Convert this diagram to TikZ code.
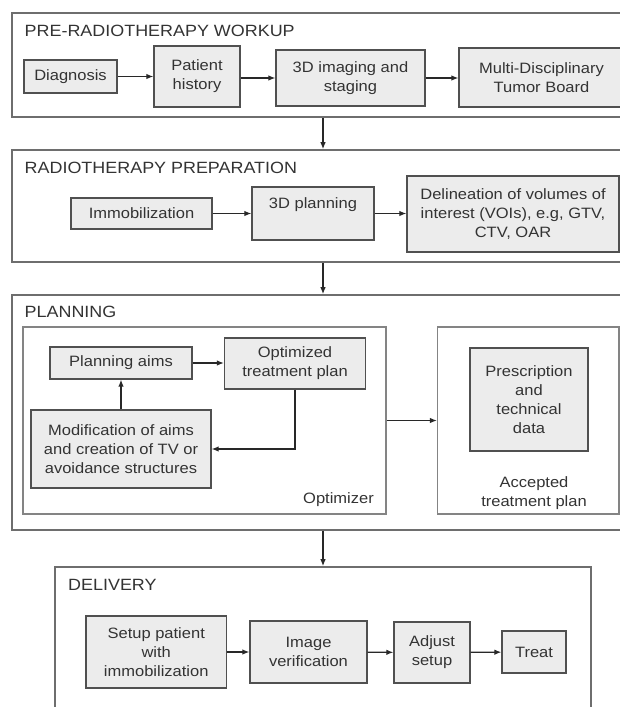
\documentclass[tikz,border=0pt]{standalone}
\usepackage{fontspec}
\setmainfont{Liberation Sans}[FakeStretch=1.1]
\usetikzlibrary{arrows.meta}

\definecolor{boxfill}{RGB}{236,236,236}
\definecolor{boxline}{RGB}{80,80,80}
\definecolor{frameline}{RGB}{110,110,110}
\definecolor{arrowline}{RGB}{40,40,40}

\tikzset{
    every node/.style={text=black!80, font=\fontsize{15}{18.8}\selectfont},
    stage/.style={draw=frameline, line width=1.6pt, inner sep=0pt},
    inner/.style={draw=frameline!85, line width=1.2pt, inner sep=0pt},
    task/.style={draw=boxline, fill=boxfill, line width=1.3pt, align=center, inner sep=2pt},
    stagetitle/.style={anchor=west, inner sep=0pt, font=\fontsize{16.3}{19}\selectfont},
    wh/.style 2 args={minimum width=#1pt, minimum height=#2pt},
    arr/.style={draw=arrowline, line width=1.2pt, -{Latex[length=7pt,width=5.5pt]}}
}

\begin{document}
\begin{tikzpicture}[x=1pt, y=-1pt]
        \useasboundingbox (0,0) rectangle (620,707);
        % Stages
        \node[stage, wh={618}{104}] (workup) at (321,65) {};
        \node[stage, wh={618}{112}] (prep) at (321,206) {};
        \node[stage, wh={618}{235}] (planning) at (321,412.5) {};
        \node[stage, wh={536}{153}] (delivery) at (323,643.5) {};
        % Stage titles
        \node[stagetitle] (workuptitle) at (24.5,30.7) {PRE-RADIOTHERAPY WORKUP};
        \node[stagetitle] (preptitle) at (24.5,168) {RADIOTHERAPY PREPARATION};
        \node[stagetitle] (planningtitle) at (24.5,312) {PLANNING};
        \node[stagetitle] (deliverytitle) at (68,585) {DELIVERY};
        % Pre-radiotherapy workup
        \node[task, wh={93}{33}] (diag) at (70.5,76.5) {Diagnosis};
        \node[task, wh={86}{61}] (history) at (197,76.5) {Patient\\history};
        \node[task, wh={149}{56}] (imaging) at (350.5,78) {3D imaging and\\staging};
        \node[task, wh={165}{59}] (board) at (541.5,77.5) {Multi-Disciplinary\\Tumor Board};
        % Radiotherapy preparation
        \node[task, wh={141}{31}] (immob) at (141.5,213.5) {Immobilization};
        \node[task, wh={122}{53}, text depth=21pt] (plan3d) at (313,213.5) {3D planning};
        \node[task, wh={212}{76}] (delin) at (513,214) {Delineation of volumes of\\interest (VOIs), e.g, GTV,\\CTV, OAR};
        % Planning
        \node[inner, wh={363}{187}] (optimizer) at (204.5,420.5) {};
        \node[inner, wh={181.5}{187}] (accepted) at (528.25,420.5) {};
        \node[task, wh={142}{32}] (aims) at (121,363) {Planning aims};
        \node[task, wh={141}{51}] (optplan) at (295,363.5) {Optimized\\treatment plan};
        \node[task, wh={180}{78}] (modif) at (121,449) {Modification of aims\\and creation of TV or\\avoidance structures};
        \node[task, wh={118}{103}] (prescr) at (529,399.5) {Prescription\\and\\technical\\data};
        \node[anchor=east, inner sep=0pt] (optlabel) at (374,500) {Optimizer};
        \node[align=center, inner sep=0pt] (acclabel) at (534,493) {Accepted\\treatment plan};
        % Delivery
        \node[task, wh={140.5}{72}] (setup) at (156.25,652) {Setup patient\\with\\immobilization};
        \node[task, wh={117}{62}] (verif) at (308.5,652) {Image\\verification};
        \node[task, wh={76}{61}] (adjust) at (432,652.5) {Adjust\\setup};
        \node[task, wh={64}{42}] (treat) at (534,652) {Treat};
        % Arrows between stages
        \foreach \a/\b in {workup/prep, prep/planning, planning/delivery} {
            \draw[arr] (\a.south -| delivery.north) -- (\b.north -| delivery.north);
        }
        % Arrows inside stages
        \draw[arr] (diag) -- (history);
        \draw[arr] (history.east |- imaging.west) -- (imaging.west);
        \draw[arr] (imaging.east) -- (board.west |- imaging.east);
        \draw[arr] (immob) -- (plan3d);
        \draw[arr] (plan3d.east) -- (delin.west |- plan3d.east);
        \draw[arr] (aims.east) -- (optplan.west |- aims.east);
        \draw[arr] (modif.north -| aims) -- (aims.south);
        \draw[arr] (optplan.south) |- (modif.east);
        \draw[arr] (optimizer) -- (accepted);
        \draw[arr] (setup) -- (verif);
        \draw[arr] (verif) -- (adjust);
        \draw[arr] (adjust) -- (treat);
    \end{tikzpicture}
\end{document}
